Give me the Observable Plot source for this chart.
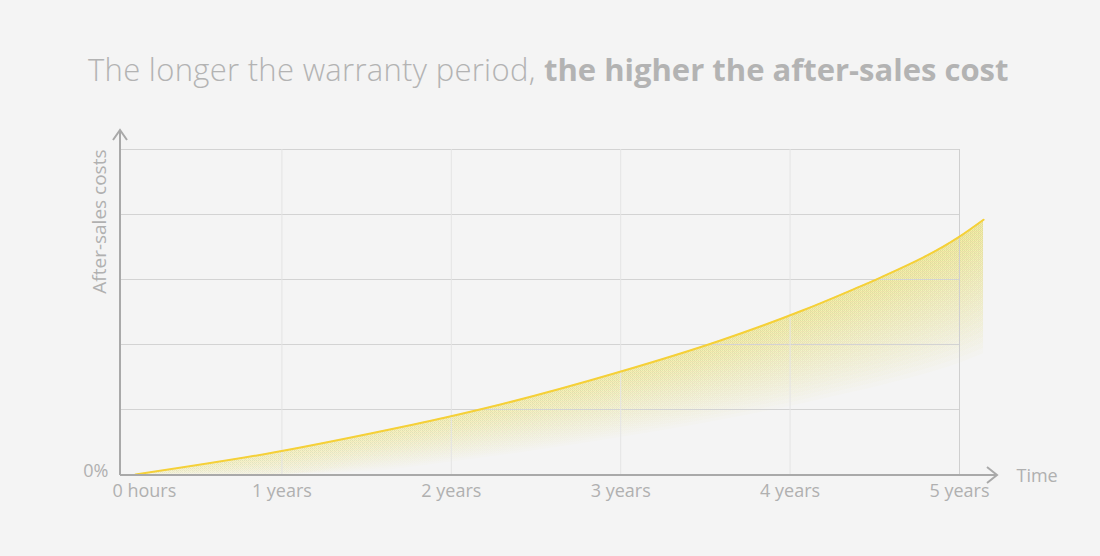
<!DOCTYPE html>
<html><head><meta charset="utf-8">
<script src="https://cdn.jsdelivr.net/npm/d3@7"></script>
<script src="https://cdn.jsdelivr.net/npm/@observablehq/plot@0.6"></script>
<style>
html,body{margin:0;padding:0;background:#f4f4f4;}
#title{height:120px;box-sizing:border-box;padding:54px 0 0 88px;font-family:"Open Sans";font-size:31px;line-height:31px;color:#b3b3b3;white-space:nowrap;}
#title .l{font-weight:300;letter-spacing:0.3px}
#title b{font-weight:700}
svg{display:block}
</style></head><body>
<div id="title"><span class="l">The longer the warranty period, </span><b>the higher the after-sales cost</b></div>
<div id="chart"></div>
<script>
const timeTicks = [0, 1, 2, 3, 4, 5];
const timeLabels = ["0 hours", "1 years", "2 years", "3 years", "4 years", "5 years"];
const costGrid = [1, 2, 3, 4, 5];
const costZeroLabel = "0%";
const xAxisTitle = "Time";
const yAxisTitle = "After-sales costs";
const curveTime = [0.136, 0.95, 1.523, 1.966, 2.29, 2.981, 3.589, 4.073, 4.357, 4.534, 5.0, 5.142];
const curveCost = [0, 0.338, 0.631, 0.877, 1.077, 1.569, 2.062, 2.523, 2.83, 3.03, 3.66, 3.92];

const curveData = curveTime.map((t, i) => ({t, v: curveCost[i]}));

const AXIS = "#a9a9a9";
const N = 24;
const fadeDepth = v => 0.3 + 0.45 * v;
const fadeLayers = d3.range(1, N + 1).map(k => Plot.areaY(curveData, {
  x: "t", y1: d => Math.max(0, d.v - fadeDepth(d.v) * k / N), y2: "v",
  curve: "monotone-x", fill: "url(#fadeH)", fillOpacity: 0.024
}));

function axesMark(index, scales, values, dims) {
  const {marginLeft, marginTop, marginBottom, marginRight, width, height} = dims;
  const ns = "http://www.w3.org/2000/svg";
  const g = document.createElementNS(ns, "g");
  const x0 = marginLeft, y0 = height - marginBottom + 1;
  const yTop = marginTop - 19, xRight = width - marginRight + 38;
  g.innerHTML =
    `<path fill="none" stroke="${AXIS}" stroke-width="2" d="M${x0},${y0}V${yTop}M${x0 - 7},${yTop + 10}L${x0},${yTop}L${x0 + 7},${yTop + 10}"/>` +
    `<path fill="none" stroke="${AXIS}" stroke-width="2" d="M${x0},${y0}H${xRight}M${xRight - 10},${y0 - 8}L${xRight},${y0}L${xRight - 10},${y0 + 8}"/>`;
  return g;
}

const chart = Plot.plot({
  width: 1100,
  height: 436,
  marginLeft: 120,
  marginRight: 141,
  marginTop: 29,
  marginBottom: 82,
  style: {fontFamily: "Open Sans", fontSize: "18px", color: "#b0b0b0", background: "transparent"},
  x: {domain: [0, 5], range: [112, 959], axis: null},
  y: {domain: [0, 5], axis: null},
  marks: [
    ...fadeLayers,
    Plot.ruleY(costGrid, {stroke: "#d3d3d3", strokeWidth: 1}),
    Plot.ruleX(timeTicks.slice(1, 5), {stroke: "#e4e4e4", strokeWidth: 1}),
    Plot.ruleX(timeTicks.slice(5), {stroke: "#cfcfcf", strokeWidth: 1}),
    Plot.line(curveData, {x: "t", y: "v", curve: "monotone-x", stroke: "#f5d038", strokeWidth: 2}),
    axesMark,
    Plot.text([0], {x: d => d, frameAnchor: "bottom", textAnchor: "start", dy: 22, text: d => timeLabels[d]}),
    Plot.text(timeTicks.slice(1), {x: d => d, frameAnchor: "bottom", dy: 22, text: d => timeLabels[d]}),
    Plot.text([0], {y: d => d, frameAnchor: "left", textAnchor: "end", dx: -12, dy: -3, text: () => costZeroLabel}),
    Plot.text([xAxisTitle], {frameAnchor: "bottom-right", textAnchor: "start", dx: 57, dy: 7, text: d => d}),
    Plot.text([yAxisTitle], {frameAnchor: "top-left", textAnchor: "end", rotate: -90, dx: -28, fontSize: 19, text: d => d})
  ]
});
chart.insertAdjacentHTML("afterbegin",
  `<defs><linearGradient id="fadeH" x1="0" x2="1" y1="0" y2="0">` +
  `<stop offset="0" stop-color="#d8cc30" stop-opacity="0.55"/>` +
  `<stop offset="1" stop-color="#d8cc30" stop-opacity="1"/>` +
  `</linearGradient></defs>`);
document.getElementById("chart").appendChild(chart);
</script>
</body></html>
